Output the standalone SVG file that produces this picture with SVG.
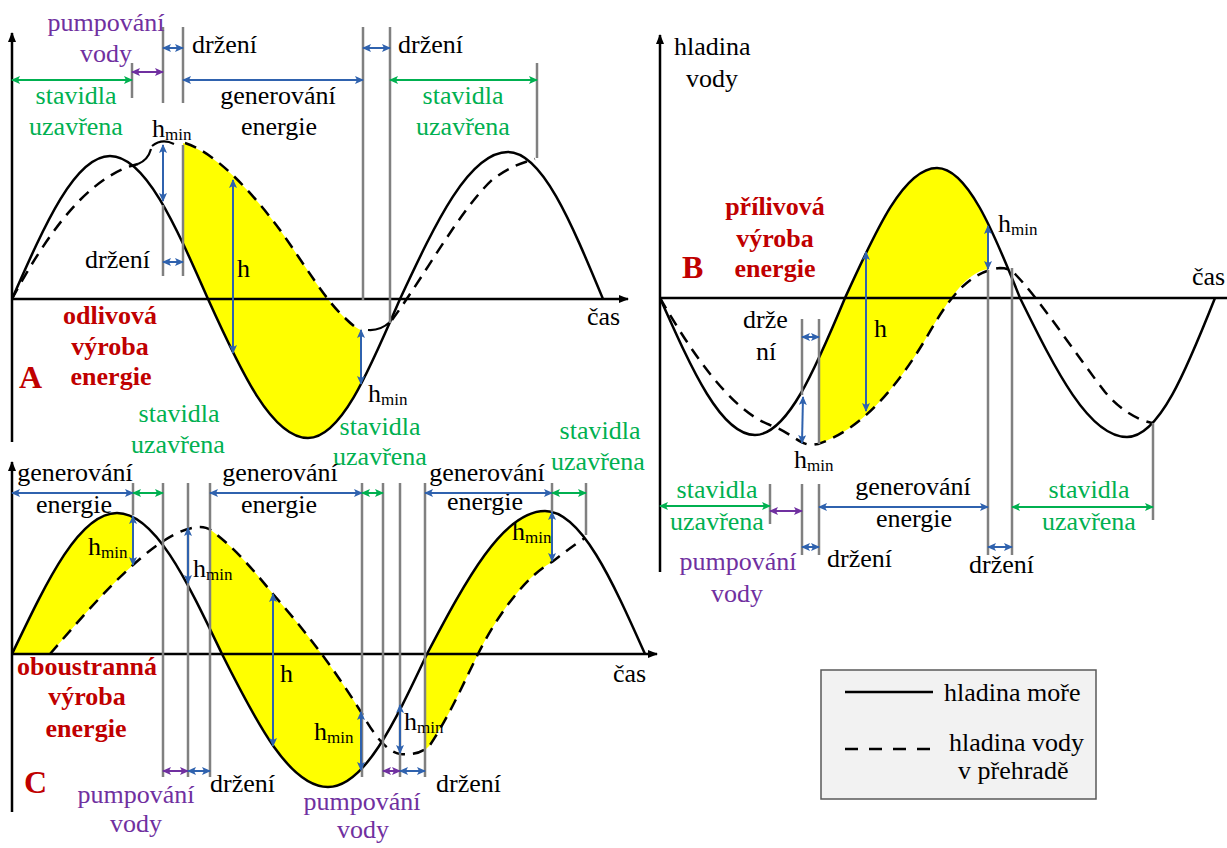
<svg xmlns="http://www.w3.org/2000/svg" width="1227" height="848" viewBox="0 0 1227 848">
<defs>
<style>
.t{font-family:'Liberation Serif','Tinos','Times New Roman','DejaVu Serif',serif;font-size:26px;fill:#000}
.m{text-anchor:middle}
.g{fill:#00b050}
.p{fill:#7030a0}
.r{fill:#c00000;font-weight:bold}
.big{font-size:32px}
.sub{font-size:17px}
.sea{fill:none;stroke:#000;stroke-width:2.5}
.dam{fill:none;stroke:#000;stroke-width:2.5;stroke-dasharray:12 8}
.hk{fill:none;stroke:#000;stroke-width:2.2}
.gl{stroke:#808080;stroke-width:2.5}
.ax{stroke:#000;stroke-width:2.5}
.fy{fill:#ffff00;stroke:none}
.ab{stroke:#2f62ae;stroke-width:2;marker-start:url(#mb);marker-end:url(#mb)}
.ag{stroke:#00b050;stroke-width:2;marker-start:url(#mg);marker-end:url(#mg)}
.ap{stroke:#7030a0;stroke-width:2;marker-start:url(#mp);marker-end:url(#mp)}
</style>
<marker id="mb" markerUnits="userSpaceOnUse" markerWidth="9" markerHeight="8" refX="8" refY="4" orient="auto-start-reverse"><path d="M0,0 L9,4 L0,8 L2,4 z" fill="#2f62ae"/></marker>
<marker id="mg" markerUnits="userSpaceOnUse" markerWidth="9" markerHeight="8" refX="8" refY="4" orient="auto-start-reverse"><path d="M0,0 L9,4 L0,8 L2,4 z" fill="#00b050"/></marker>
<marker id="mp" markerUnits="userSpaceOnUse" markerWidth="9" markerHeight="8" refX="8" refY="4" orient="auto-start-reverse"><path d="M0,0 L9,4 L0,8 L2,4 z" fill="#7030a0"/></marker>
<marker id="mk" markerUnits="userSpaceOnUse" markerWidth="10" markerHeight="8" refX="9" refY="4" orient="auto"><path d="M0,0 L10,4 L0,8 z" fill="#000"/></marker>
</defs>
<rect width="1227" height="848" fill="#fff"/>

<g font-family="Liberation Serif, Times New Roman, serif">
<!-- ================= PANEL A ================= -->
<g id="panel-A">
<g id="A-fill">
<path class="fy" d="M183,143 C215,152 252,192 280,230 C305,265 325,300 345,318 Q355,328 361,330 L361,385 C343,417 326,438 308,438 C272,438 241,372 208,299 C200,280 192,262 183,245 Z"/>
</g>
<g id="A-axes">
<line class="ax" x1="12" y1="442" x2="12" y2="33" marker-end="url(#mk)"/>
<line class="ax" x1="12" y1="299" x2="628" y2="299" marker-end="url(#mk)"/>
</g>
<g id="A-curves">
<path class="sea" d="M12,299 C45,224 75,156 110,156 C145,156 175,224 208,299 C241,372 272,438 308,438 C341,438 369,371 400,299 C436,222 469,152 508,152 C542,152 571,222 603,299"/>
<path class="dam" d="M12,299 C30,265 55,225 80,200 C100,180 120,168 138,164"/>
<path class="hk" d="M138,164 Q148,160 151,149"/>
<path class="hk" d="M152,146 Q162,138 174,144"/>
<path class="dam" d="M185,143 C215,152 252,192 280,230 C305,265 325,300 345,318 Q355,328 361,330"/>
<path class="hk" d="M368,330 Q380,331 390,322"/>
<path class="dam" d="M392,320 C425,275 460,210 492,180 C510,166 525,162 535,159"/>
</g>
<g id="A-gates">
<line class="gl" x1="132" y1="63" x2="132" y2="98"/>
<line class="gl" x1="163" y1="27" x2="163" y2="103"/>
<line class="gl" x1="183" y1="27" x2="183" y2="103"/>
<line class="gl" x1="163" y1="205" x2="163" y2="276"/>
<line class="gl" x1="183" y1="145" x2="183" y2="276"/>
<line class="gl" x1="363" y1="27" x2="363" y2="300"/>
<line class="gl" x1="390" y1="27" x2="390" y2="323"/>
<line class="gl" x1="537" y1="63" x2="537" y2="158"/>
</g>
<g id="A-labels">
<text class="t m p" x="106" y="31">pumpování</text>
<text class="t m p" x="106" y="62">vody</text>
<text class="t" x="192" y="53">držení</text>
<text class="t m g" x="76" y="104">stavidla</text>
<text class="t m g" x="76" y="135">uzavřena</text>
<text class="t" x="152" y="137">h<tspan class="sub" dy="3">min</tspan></text>
<text class="t m" x="278" y="104">generování</text>
<text class="t m" x="279" y="135">energie</text>
<text class="t" x="398" y="53">držení</text>
<text class="t m g" x="463" y="104">stavidla</text>
<text class="t m g" x="463" y="135">uzavřena</text>
<text class="t" x="85" y="268">držení</text>
<text class="t" x="237" y="277">h</text>
<text class="t" x="368" y="402">h<tspan class="sub" dy="3">min</tspan></text>
<text class="t" x="587" y="325">čas</text>
<text class="t m r" x="110" y="324">odlivová</text>
<text class="t m r" x="110" y="355">výroba</text>
<text class="t m r" x="111" y="385">energie</text>
<text class="t r big" x="19" y="388">A</text>
<text class="t m g" x="179" y="422">stavidla</text>
<text class="t m g" x="178" y="453">uzavřena</text>
<text class="t m g" x="380" y="435">stavidla</text>
<text class="t m g" x="380" y="465">uzavřena</text>
<text class="t m g" x="600" y="439">stavidla</text>
<text class="t m g" x="598" y="470">uzavřena</text>
</g>
</g>

<!-- ================= PANEL C ================= -->
<g id="panel-C">
<g id="C-fill">
<path class="fy" d="M12,654 C47,581 79,513 117,513 Q127,513 133,516 L133,565 C105,590 75,625 50,654 Z"/>
<path class="fy" d="M210,529 L212,531 C235,548 255,572 273,594 C300,625 330,662 361,712 L361,771 C349,781 339,787 328,787 C290,787 257,724 222,654 L210,631 Z"/>
<path class="fy" d="M425,658 L427,654 C466,580 503,511 545,511 Q549,511 552,512 L552,562 C528,575 500,610 478,654 C465,680 450,715 430,745 L425,750 Z"/>
</g>
<g id="C-axes">
<line class="ax" x1="12" y1="812" x2="12" y2="462" marker-end="url(#mk)"/>
<line class="ax" x1="12" y1="654" x2="657" y2="654" marker-end="url(#mk)"/>
</g>
<g id="C-curves">
<path class="sea" d="M12,654 C47,581 79,513 117,513 C155,513 187,581 222,654 C257,724 290,787 328,787 C364,787 394,724 427,654 C466,580 503,511 545,511 C581,511 612,580 645,654"/>
<path class="dam" d="M50,654 C75,625 105,590 133,565 C155,545 180,527 200,527 Q207,527 212,531 C235,548 255,572 273,594 C300,625 330,662 361,712 C370,728 385,752 400,754 Q420,756 430,745 C450,715 465,680 478,654 C500,610 528,575 552,562 C560,556 572,546 585,538"/>
</g>
<g id="C-gates">
<line class="gl" x1="133" y1="483" x2="133" y2="515"/>
<line class="gl" x1="163" y1="483" x2="163" y2="777"/>
<line class="gl" x1="188" y1="483" x2="188" y2="777"/>
<line class="gl" x1="210" y1="483" x2="210" y2="777"/>
<line class="gl" x1="362" y1="483" x2="362" y2="777"/>
<line class="gl" x1="383" y1="483" x2="383" y2="777"/>
<line class="gl" x1="400" y1="483" x2="400" y2="777"/>
<line class="gl" x1="425" y1="483" x2="425" y2="777"/>
<line class="gl" x1="552" y1="483" x2="552" y2="512"/>
<line class="gl" x1="586" y1="483" x2="586" y2="535"/>
</g>
<g id="C-labels">
<text class="t m" x="75" y="481">generování</text>
<text class="t m" x="74" y="513">energie</text>
<text class="t" x="88" y="555">h<tspan class="sub" dy="3">min</tspan></text>
<text class="t" x="193" y="577">h<tspan class="sub" dy="3">min</tspan></text>
<text class="t m" x="280" y="481">generování</text>
<text class="t m" x="279" y="513">energie</text>
<text class="t m" x="487" y="481">generování</text>
<text class="t m" x="485" y="510">energie</text>
<text class="t" x="512" y="540">h<tspan class="sub" dy="3">min</tspan></text>
<text class="t" x="613" y="682">čas</text>
<text class="t" x="280" y="682">h</text>
<text class="t" x="314" y="740">h<tspan class="sub" dy="3">min</tspan></text>
<text class="t" x="404" y="730">h<tspan class="sub" dy="3">min</tspan></text>
<text class="t m r" x="87" y="675">oboustranná</text>
<text class="t m r" x="87" y="705">výroba</text>
<text class="t m r" x="86" y="737">energie</text>
<text class="t r big" x="24" y="793">C</text>
<text class="t m p" x="136" y="803">pumpování</text>
<text class="t m p" x="136" y="832">vody</text>
<text class="t" x="210" y="792">držení</text>
<text class="t m p" x="362" y="810">pumpování</text>
<text class="t m p" x="363" y="838">vody</text>
<text class="t" x="436" y="792">držení</text>
</g>
</g>

<!-- ================= PANEL B ================= -->
<g id="panel-B">
<g id="B-fill">
<path class="fy" d="M818,359 C827,341 836,320 845,298 C876,230 904,168 937,168 C955.6,168 972.7,191.8 988,226 L988,269 C965,272 945,305 925,340 C895,390 860,430 818,444 Z"/>
</g>
<g id="B-axes">
<line class="ax" x1="660" y1="572" x2="660" y2="35" marker-end="url(#mk)"/>
<line class="ax" x1="660" y1="298" x2="1227" y2="298"/>
</g>
<g id="B-curves">
<path class="sea" d="M660,298 C692,370 721,435 755,435 C787,435 815,370 845,298 C876,230 904,168 937,168 C967,168 993,230 1020,298 C1056,371 1089,437 1127,437 C1159,437 1186,371 1215,298"/>
<path class="dam" d="M660,298 C690,350 730,410 770,425 C790,432 800,445 812,445 L818,444 C860,430 895,390 925,340 C945,305 965,272 1000,268 Q1010,268 1016,275 C1040,300 1080,360 1105,392 C1120,410 1138,420 1152,423"/>
</g>
<g id="B-gates">
<line class="gl" x1="770" y1="484" x2="770" y2="524"/>
<line class="gl" x1="802" y1="319" x2="802" y2="395"/>
<line class="gl" x1="802" y1="484" x2="802" y2="555"/>
<line class="gl" x1="819" y1="319" x2="819" y2="444"/>
<line class="gl" x1="819" y1="484" x2="819" y2="555"/>
<line class="gl" x1="988" y1="270" x2="988" y2="555"/>
<line class="gl" x1="1012" y1="268" x2="1012" y2="555"/>
<line class="gl" x1="1153" y1="423" x2="1153" y2="520"/>
</g>
<g id="B-labels">
<text class="t" x="674" y="55">hladina</text>
<text class="t m" x="712" y="87">vody</text>
<text class="t m r" x="775" y="215">přílivová</text>
<text class="t m r" x="775" y="247">výroba</text>
<text class="t m r" x="775" y="277">energie</text>
<text class="t r big" x="682" y="278">B</text>
<text class="t" x="1192" y="285">čas</text>
<text class="t" x="998" y="232">h<tspan class="sub" dy="3">min</tspan></text>
<text class="t" x="743" y="328">drže</text>
<text class="t" x="756" y="360">ní</text>
<text class="t" x="874" y="337">h</text>
<text class="t" x="794" y="468">h<tspan class="sub" dy="3">min</tspan></text>
<text class="t m g" x="717" y="498">stavidla</text>
<text class="t m g" x="717" y="530">uzavřena</text>
<text class="t m" x="913" y="495">generování</text>
<text class="t m" x="914" y="527">energie</text>
<text class="t m g" x="1089" y="498">stavidla</text>
<text class="t m g" x="1089" y="530">uzavřena</text>
<text class="t m p" x="738" y="570">pumpování</text>
<text class="t m p" x="737" y="602">vody</text>
<text class="t" x="827" y="567">držení</text>
<text class="t" x="969" y="573">držení</text>
</g>
</g>

<!-- ================= CONNECTORS (duration / level arrows) ================= -->
<g id="connectors">
<line class="ab" x1="163" y1="48" x2="183" y2="48"/>
<line class="ag" x1="12" y1="80" x2="132" y2="80"/>
<line class="ap" x1="132" y1="72" x2="163" y2="72"/>
<line class="ab" x1="183" y1="80" x2="363" y2="80"/>
<line class="ab" x1="363" y1="48" x2="390" y2="48"/>
<line class="ag" x1="390" y1="80" x2="537" y2="80"/>
<line class="ab" x1="163" y1="262" x2="183" y2="262"/>
<line class="ab" x1="163" y1="145" x2="163" y2="201"/>
<line class="ab" x1="233" y1="180" x2="233" y2="353"/>
<line class="ab" x1="361" y1="330" x2="361" y2="384"/>

<line class="ab" x1="12" y1="493" x2="133" y2="493"/>
<line class="ag" x1="133" y1="493" x2="163" y2="493"/>
<line class="ab" x1="210" y1="493" x2="362" y2="493"/>
<line class="ag" x1="362" y1="493" x2="383" y2="493"/>
<line class="ab" x1="425" y1="493" x2="552" y2="493"/>
<line class="ag" x1="552" y1="493" x2="586" y2="493"/>
<line class="ap" x1="163" y1="771" x2="188" y2="771"/>
<line class="ab" x1="188" y1="771" x2="210" y2="771"/>
<line class="ap" x1="383" y1="771" x2="400" y2="771"/>
<line class="ab" x1="400" y1="771" x2="425" y2="771"/>
<line class="ab" x1="133" y1="516" x2="133" y2="565"/>
<line class="ab" x1="188" y1="528" x2="188" y2="583"/>
<line class="ab" x1="273" y1="594" x2="273" y2="746"/>
<line class="ab" x1="361" y1="712" x2="361" y2="770"/>
<line class="ab" x1="400" y1="705" x2="400" y2="753"/>
<line class="ab" x1="552" y1="512" x2="552" y2="561"/>

<line class="ag" x1="660" y1="506" x2="770" y2="506"/>
<line class="ap" x1="770" y1="511" x2="802" y2="511"/>
<line class="ab" x1="819" y1="507" x2="988" y2="507"/>
<line class="ag" x1="1012" y1="507" x2="1153" y2="507"/>
<line class="ab" x1="802" y1="547" x2="819" y2="547"/>
<line class="ab" x1="988" y1="547" x2="1012" y2="547"/>
<line class="ab" x1="802" y1="337" x2="819" y2="337"/>
<line class="ab" x1="803" y1="397" x2="802" y2="443"/>
<line class="ab" x1="866" y1="252" x2="866" y2="411"/>
<line class="ab" x1="988" y1="226" x2="988" y2="269"/>
</g>

<!-- ================= LEGEND ================= -->
<g id="legend">
<rect x="821" y="670" width="275" height="129" fill="#f2f2f2" stroke="#595959" stroke-width="1.5"/>
<line x1="845" y1="692" x2="933" y2="692" stroke="#000" stroke-width="2.5"/>
<line x1="845" y1="749" x2="933" y2="749" stroke="#000" stroke-width="2.5" stroke-dasharray="13 11"/>
<text class="t" x="944" y="701">hladina moře</text>
<text class="t" x="949" y="751">hladina vody</text>
<text class="t" x="958" y="779">v přehradě</text>
</g>
</g>
</svg>
